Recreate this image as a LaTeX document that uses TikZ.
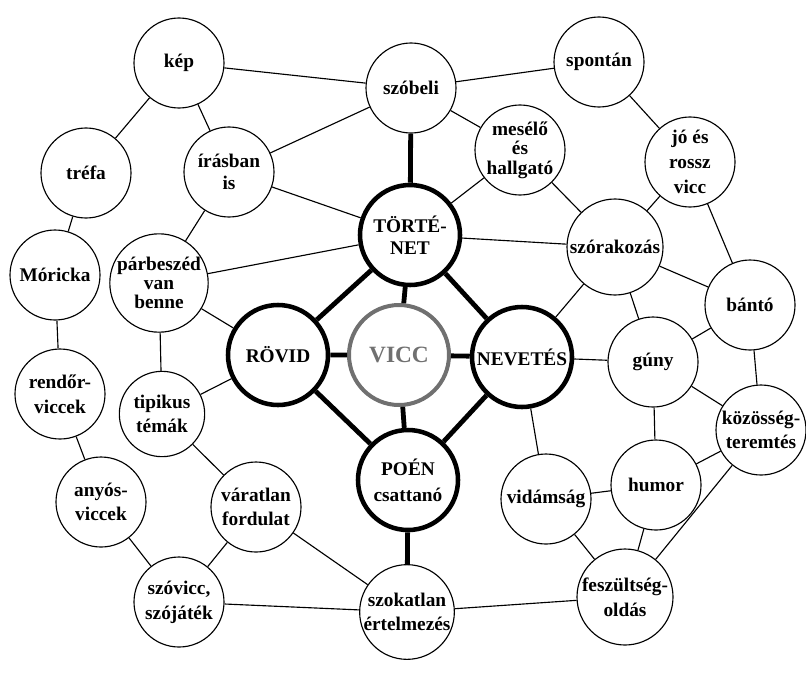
\documentclass[tikz,border=0pt]{standalone}
\usepackage{fontspec}
\setmainfont{Liberation Serif}
\usepackage{tikz}
\usetikzlibrary{positioning}
\definecolor{viccGray}{HTML}{707070}
\tikzstyle{idea}=[circle, draw, line width=0.85pt, minimum size=67.5pt, inner sep=0pt, align=center, font=\fontsize{14.5}{14.5}\selectfont\bfseries]
\tikzstyle{core}=[idea, line width=3.4pt, minimum size=75pt]
\tikzstyle{link}=[line width=0.85pt]
\tikzstyle{strong}=[line width=3.6pt]

\begin{document}
\begin{tikzpicture}[x=0.75pt, y=-0.75pt]
  \useasboundingbox (0,0) rectangle (806,675);

  % a középső gyémánt
  \node[core, draw=viccGray, text=viccGray, line width=3pt, font=\fontsize{17.5}{18}\selectfont\bfseries] (vicc) at (399,355) {VICC};
  \node[core] (tortenet) at (410,235) {TÖRTÉ-\\[2pt]NET};
  \node[core] (rovid) at (278,355) {RÖVID};
  \node[core] (nevetes) at (522,357) {NEVETÉS};
  \node[core] (poen) at (408,480) {POÉN\\[5pt]csattanó};

  % bal oldal
  \node[idea] (kep) at (179,63) {kép};
  \node[idea] (trefa) at (86,173) {tréfa};
  \node[idea] (moricka) at (55,275) {Móricka};
  \node[idea] (irasban) at (229,172) {írásban\\[2pt]is};
  \node[idea, minimum size=70pt] (parbeszed) at (159,283) {párbeszéd\\van\\benne};
  \node[idea] (rendor) at (60,394) {rendőr-\\[4pt]viccek};
  \node[idea, minimum size=64pt] (tipikus) at (162,414) {tipikus\\[4pt]témák};
  \node[idea] (anyos) at (101,502) {anyós-\\[4pt]viccek};
  \node[idea] (varatlan) at (256,507) {váratlan\\[4pt]fordulat};
  \node[idea] (szovicc) at (179,602) {szóvicc,\\[4pt]szójáték};
  \node[idea, minimum size=71pt] (szokatlan) at (407,612) {szokatlan\\[4pt]értelmezés};

  % jobb oldal
  \node[idea] (szobeli) at (411,88) {szóbeli};
  \node[idea] (spontan) at (599,62) {spontán};
  \node[idea] (meselo) at (520,150) {mesélő\\és\\hallgató};
  \node[idea] (jo) at (690,162) {jó és\\[4pt]rossz\\[4pt]vicc};
  \node[idea, minimum size=72pt] (szorakozas) at (615,247) {szórakozás};
  \node[idea] (banto) at (750,305) {bántó};
  \node[idea] (guny) at (653,362) {gúny};
  \node[idea] (kozosseg) at (761,430) {közösség-\\[4pt]teremtés};
  \node[idea] (humor) at (656,485) {humor};
  \node[idea] (vidamsag) at (546,499) {vidámság};
  \node[idea, minimum size=72pt] (feszultseg) at (625,597) {feszültség-\\[4pt]oldás};

  % vastag kapcsolatok
  \draw[strong] (tortenet) -- (vicc) (rovid) -- (vicc) (nevetes) -- (vicc) (poen) -- (vicc);
  \draw[strong] (tortenet) -- (rovid) -- (poen) -- (nevetes) -- (tortenet);
  \draw[strong] (szobeli) -- (tortenet) (poen) -- (szokatlan);

  % vékony kapcsolatok, bal oldal
  \draw[link] (kep) -- (szobeli) (kep) -- (trefa) (kep) -- (irasban);
  \draw[link] (irasban) -- (szobeli) (irasban) -- (tortenet) (irasban) -- (parbeszed);
  \draw[link] (trefa) -- (moricka) (moricka) -- (rendor) (rendor) -- (anyos);
  \draw[link] (parbeszed) -- (tortenet) (parbeszed) -- (rovid) (parbeszed) -- (tipikus);
  \draw[link] (tipikus) -- (rovid) (tipikus) -- (varatlan);
  \draw[link] (anyos) -- (szovicc) (varatlan) -- (szovicc);
  \draw[link] (varatlan) -- (szokatlan) (szovicc) -- (szokatlan);

  % vékony kapcsolatok, jobb oldal
  \draw[link] (szobeli) -- (spontan) (szobeli) -- (meselo);
  \draw[link] (meselo) -- (tortenet) (meselo) -- (szorakozas);
  \draw[link] (spontan) -- (jo) (jo) -- (szorakozas) (jo) -- (banto);
  \draw[link] (tortenet) -- (szorakozas) (szorakozas) -- (nevetes);
  \draw[link] (szorakozas) -- (guny) (szorakozas) -- (banto);
  \draw[link] (banto) -- (guny) (banto) -- (kozosseg);
  \draw[link] (nevetes) -- (guny) (nevetes) -- (vidamsag);
  \draw[link] (guny) -- (kozosseg) (guny) -- (humor);
  \draw[link] (humor) -- (vidamsag) (humor) -- (kozosseg) (humor) -- (feszultseg);
  \draw[link] (vidamsag) -- (feszultseg) (kozosseg) -- (feszultseg);
  \draw[link] (feszultseg) -- (szokatlan);
\end{tikzpicture}
\end{document}
